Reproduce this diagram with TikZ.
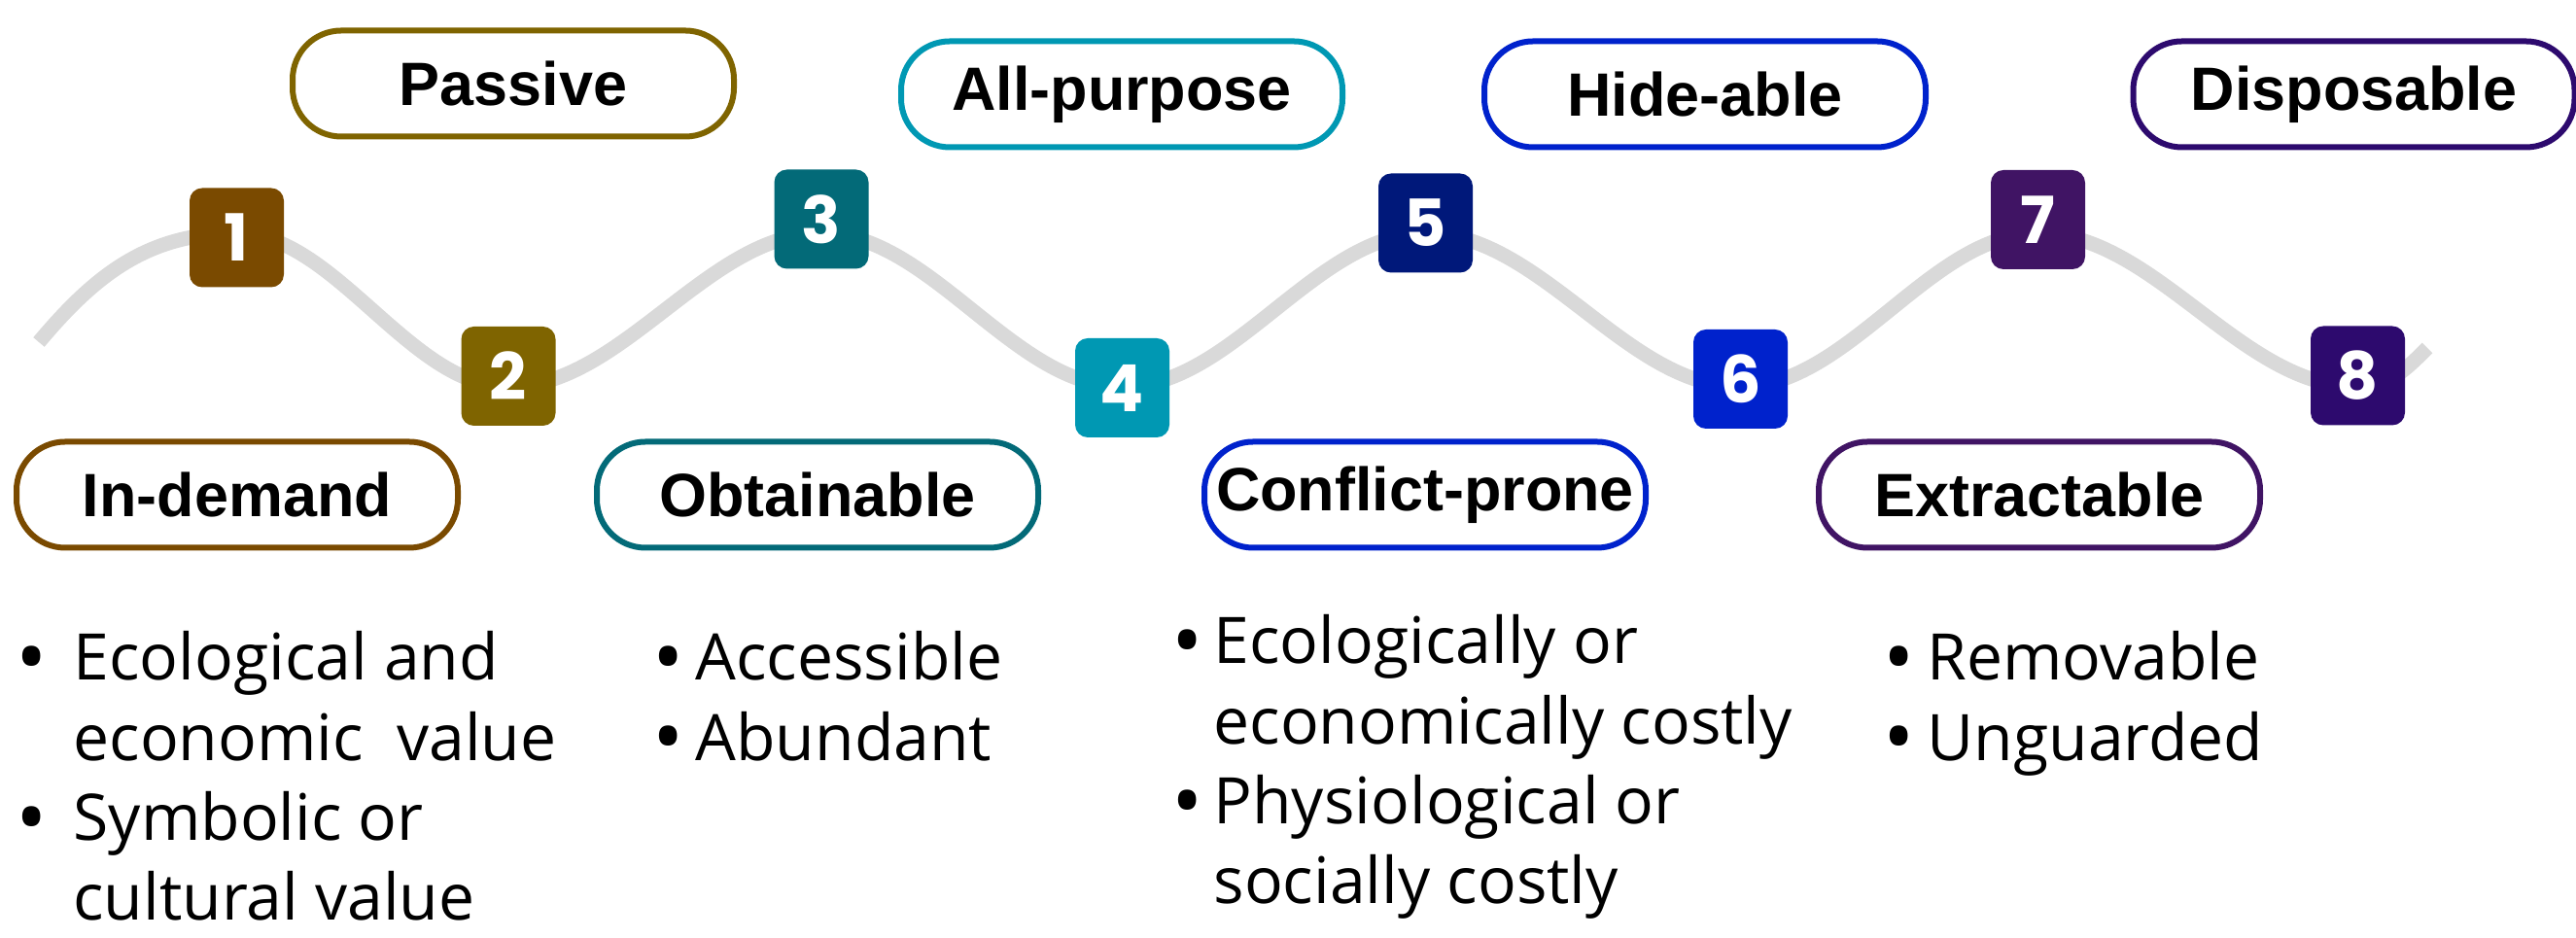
\documentclass[tikz,border=0pt]{standalone}
\usepackage{fontspec}
\usepackage{graphicx}
\setmainfont{Open Sans}
\newfontfamily\labelfont{Liberation Sans}
\newfontfamily\numfont{Poppins}

\definecolor{wavegray}{HTML}{D9D9D9}
\definecolor{demandcol}{HTML}{7A4A00}
\definecolor{passivecol}{HTML}{7F6400}
\definecolor{obtaincol}{HTML}{036A78}
\definecolor{purposecol}{HTML}{0098B3}
\definecolor{conflictcol}{HTML}{00187A}
\definecolor{hidecol}{HTML}{0022CC}
\definecolor{extractcol}{HTML}{401464}
\definecolor{disposecol}{HTML}{2D0A6E}

% slightly larger bullet, same advance as the normal one
\newcommand\bigbullet{\sbox0{\textbullet}\makebox[\wd0][c]{\raisebox{-0.1em}{\scalebox{1.3}{\textbullet}}}}

\begin{document}
\begin{tikzpicture}[
		numbox/.style={
			rounded corners=0.13cm,
			minimum width=0.97cm,
			minimum height=1.02cm,
			inner sep=0pt,
			text=white,
			font=\numfont\bfseries\fontsize{19}{19}\selectfont,
		},
		pill/.style={
			draw,
			fill=white,
			line width=0.06cm,
			rounded corners=0.5cm,
			minimum width=4.54cm,
			minimum height=1.09cm,
			font=\labelfont\bfseries\fontsize{17.9}{20}\selectfont,
		},
		wave/.style={
			line width=0.15cm,
			draw=wavegray,
		},
		bullets/.style={
			anchor=base west,
			inner sep=0pt,
			font=\fontsize{18.8}{23.4}\selectfont,
		},
	]
		\useasboundingbox (0,0) rectangle (26.5,9.65);

		% grey wave behind the numbered steps
		\draw[wave] (0.40,6.13) to[out=50,in=180] (2.43,7.25)
			cos (3.83,6.46) sin (5.23,5.67) cos (6.84,6.46) sin (8.45,7.25)
			cos (10.00,6.46) sin (11.55,5.67) cos (13.11,6.46) sin (14.67,7.25)
			cos (16.29,6.46) sin (17.90,5.67) cos (19.44,6.46) sin (20.97,7.25)
			cos (22.61,6.46) sin (24.25,5.67) to[out=0,in=225] (24.97,6.07);

		% numbered steps
		\node[numbox, fill=demandcol] (b1) at (2.435,7.205) {1};
		\node[numbox, fill=passivecol] (b2) at (5.23,5.78) {2};
		\node[numbox, fill=obtaincol] (b3) at (8.45,7.395) {3};
		\node[numbox, fill=purposecol] (b4) at (11.545,5.66) {4};
		\node[numbox, fill=conflictcol] (b5) at (14.665,7.355) {5};
		\node[numbox, fill=hidecol] (b6) at (17.905,5.75) {6};
		\node[numbox, fill=extractcol] (b7) at (20.965,7.39) {7};
		\node[numbox, fill=disposecol] (b8) at (24.255,5.785) {8};

		% labels above the wave
		\node[pill, draw=passivecol] (passive) at (5.28,8.79) {Passive};
		\node[pill, draw=purposecol] (allpurpose) at (11.54,8.68) {All-purpose};
		\node[pill, draw=hidecol] (hide) at (17.54,8.68) {Hide-able};
		\node[pill, draw=disposecol] (dispose) at (24.215,8.68) {Disposable};

		% labels below the wave
		\node[pill, draw=demandcol] (demand) at (2.44,4.56) {In-demand};
		\node[pill, draw=obtaincol] (obtain) at (8.41,4.56) {Obtainable};
		\node[pill, draw=hidecol] (conflict) at (14.66,4.56) {Conflict-prone};
		\node[pill, draw=extractcol] (extract) at (20.98,4.56) {Extractable};

		% bullet lists
		\node[bullets] (demandtxt) at (0.20,2.65) {%
			\begin{tabular}[t]{@{}l@{\hspace{0.30cm}}l@{}}
				\bigbullet & Ecological and\\
				& economic\ \ value\\
				\bigbullet & Symbolic or\\
				& cultural value
			\end{tabular}};
		\node[bullets] (obtaintxt) at (6.75,2.65) {%
			\begin{tabular}[t]{@{}l@{\hspace{0.15cm}}l@{}}
				\bigbullet & Accessible\\
				\bigbullet & Abundant
			\end{tabular}};
		\node[bullets] (conflicttxt) at (12.09,2.82) {%
			\begin{tabular}[t]{@{}l@{\hspace{0.14cm}}l@{}}
				\bigbullet & Ecologically or\\
				& economically costly\\
				\bigbullet & Physiological or\\
				& socially costly
			\end{tabular}};
		\node[bullets] (extracttxt) at (19.40,2.65) {%
			\begin{tabular}[t]{@{}l@{\hspace{0.17cm}}l@{}}
				\bigbullet & Removable\\
				\bigbullet & Unguarded
			\end{tabular}};
	\end{tikzpicture}
\end{document}
